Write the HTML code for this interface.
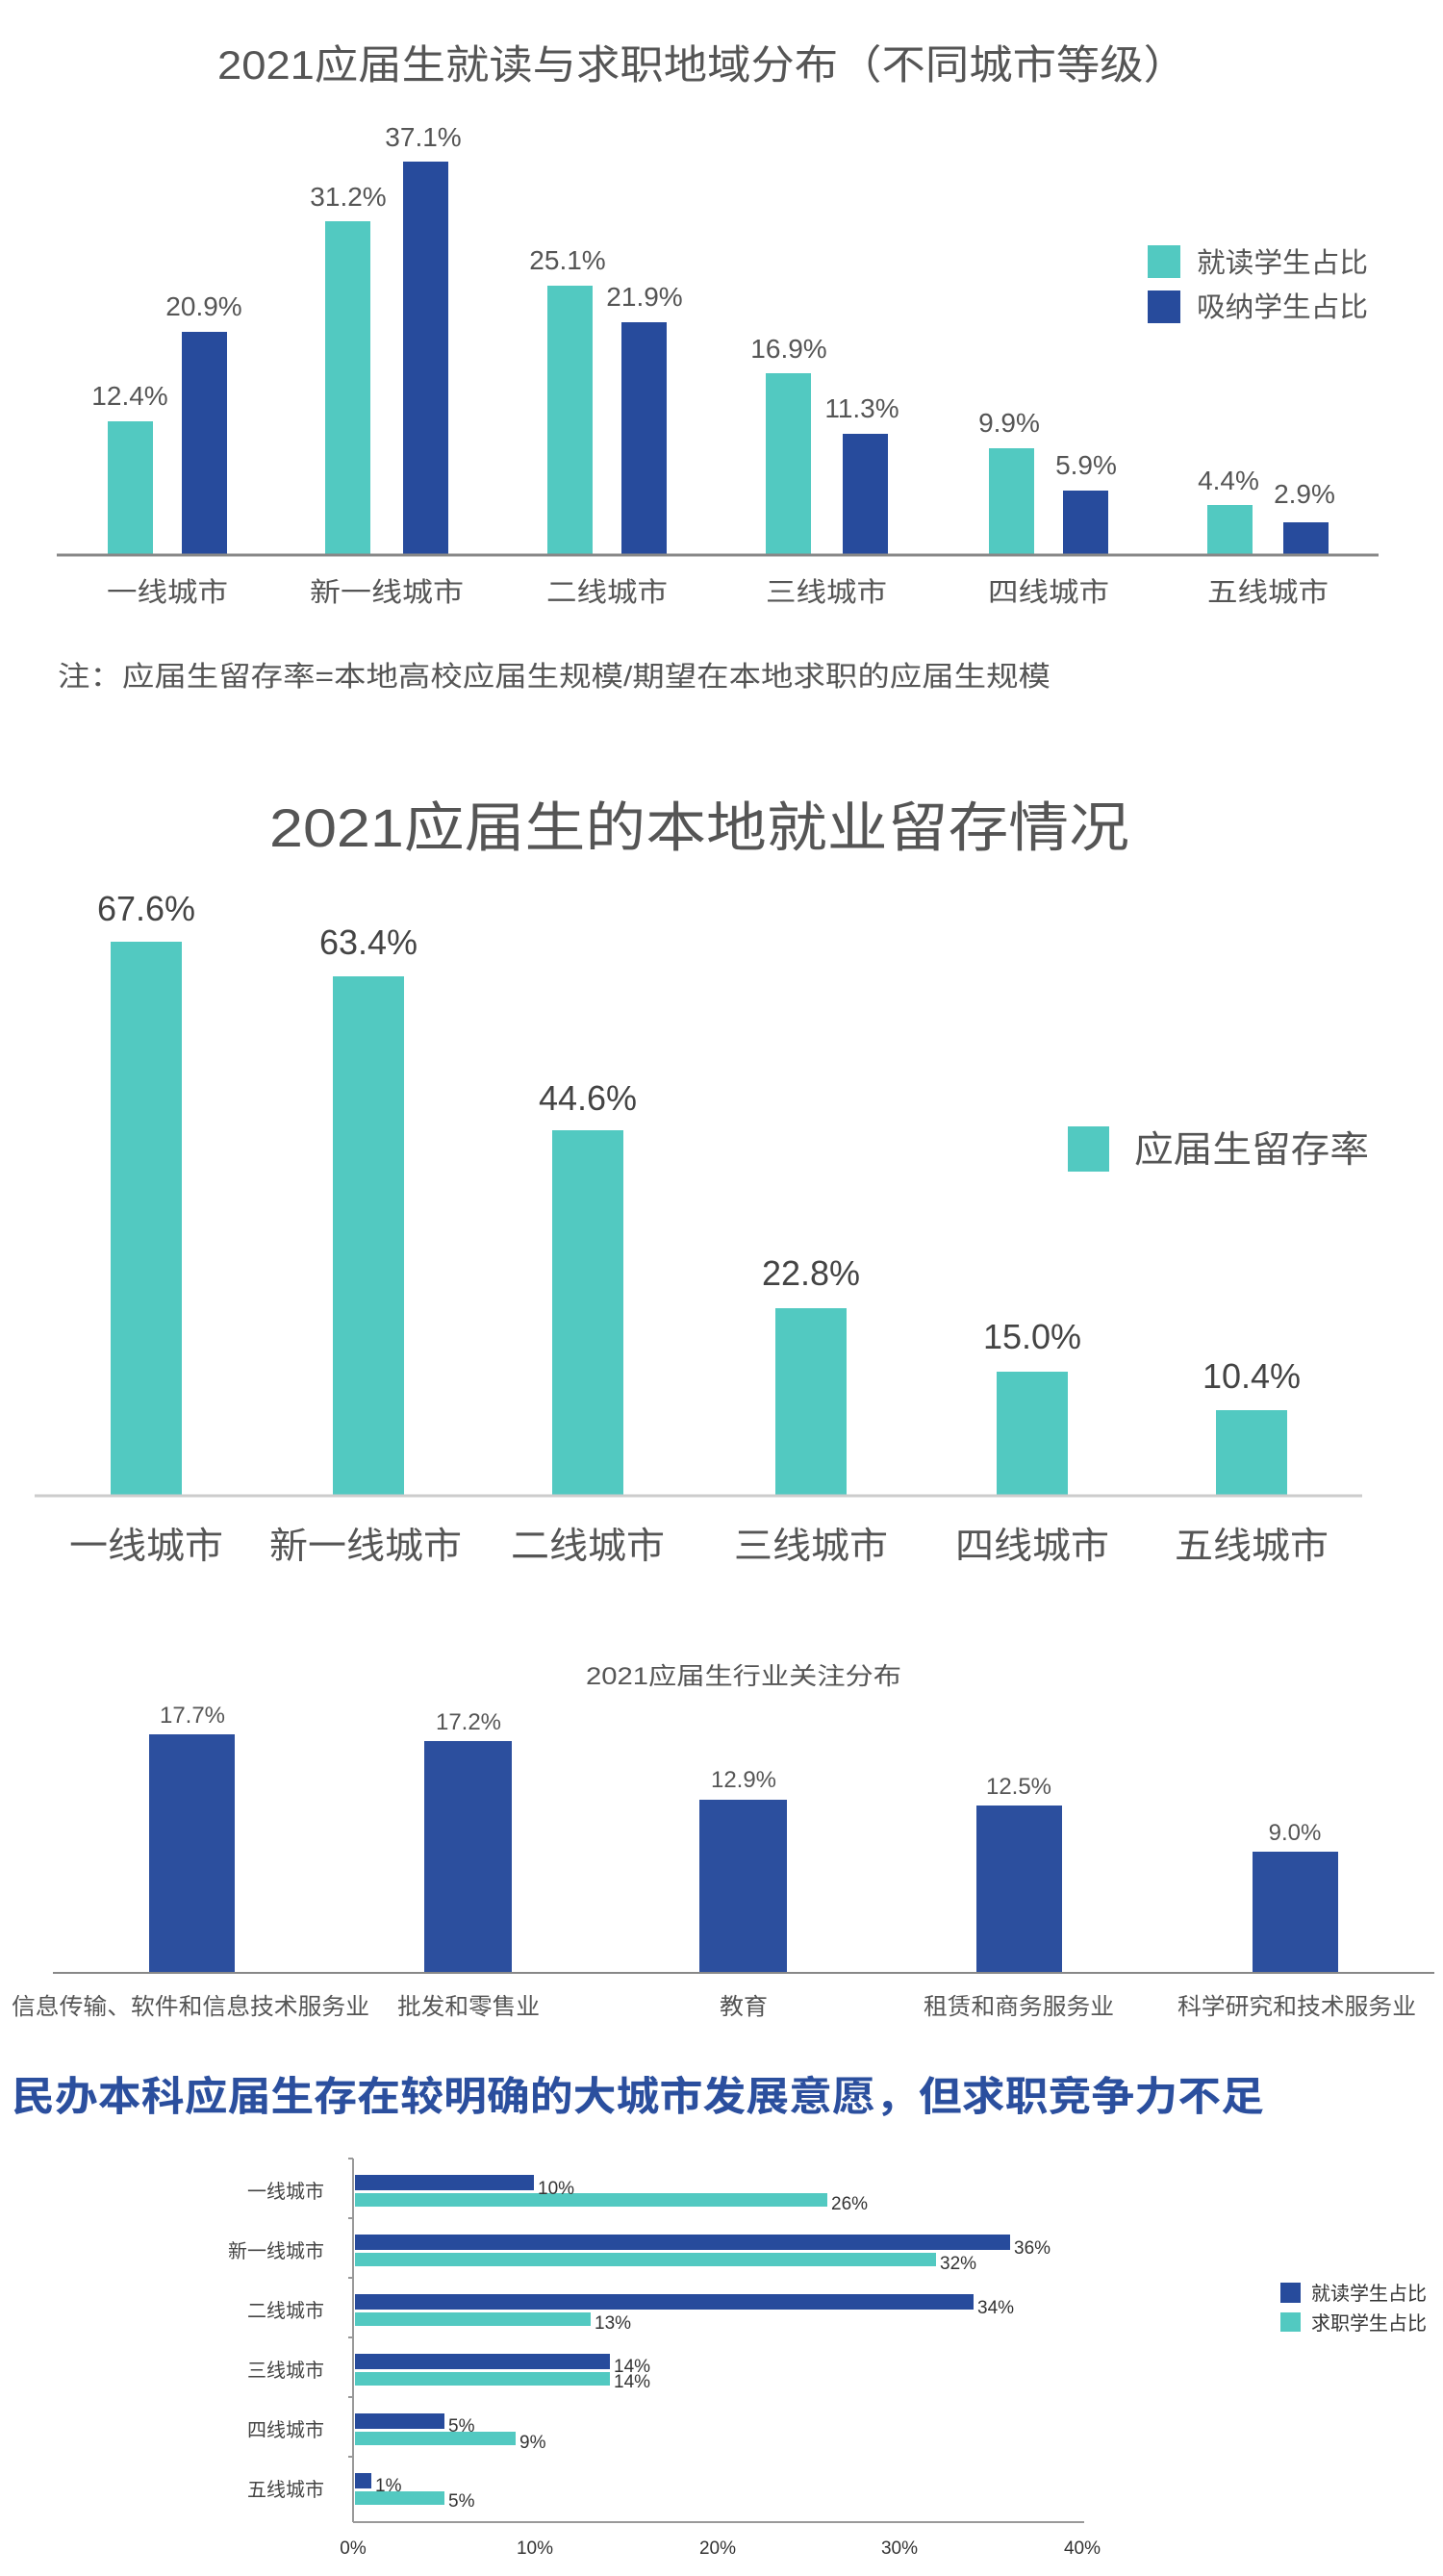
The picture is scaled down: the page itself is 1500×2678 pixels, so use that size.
<!DOCTYPE html>
<html><head><meta charset="utf-8"><style>
html,body{margin:0;padding:0;background:#fff;}
svg{display:block;font-family:"Liberation Sans","Noto Sans CJK SC",sans-serif;}
</style></head><body>
<svg width="1500" height="2678" viewBox="0 0 1500 2678" xmlns="http://www.w3.org/2000/svg">
<!-- Chart 1 -->
<text x="226" y="82" font-size="42" fill="#555" textLength="1008" lengthAdjust="spacingAndGlyphs">2021应届生就读与求职地域分布（不同城市等级）</text>
<g fill="#52c9c1">
<rect x="112" y="438" width="47" height="138"/>
<rect x="338" y="230" width="47" height="346"/>
<rect x="569" y="297" width="47" height="279"/>
<rect x="796" y="388" width="47" height="188"/>
<rect x="1028" y="466" width="47" height="110"/>
<rect x="1255" y="525" width="47" height="51"/>
</g>
<g fill="#274b9c">
<rect x="189" y="345" width="47" height="231"/>
<rect x="419" y="168" width="47" height="408"/>
<rect x="646" y="335" width="47" height="241"/>
<rect x="876" y="451" width="47" height="125"/>
<rect x="1105" y="510" width="47" height="66"/>
<rect x="1334" y="543" width="47" height="33"/>
</g>
<line x1="59" y1="577" x2="1433" y2="577" stroke="#888" stroke-width="3"/>
<g font-size="28" fill="#555" text-anchor="middle">
<text x="135" y="421">12.4%</text><text x="212" y="328">20.9%</text>
<text x="362" y="214">31.2%</text><text x="440" y="152">37.1%</text>
<text x="590" y="280">25.1%</text><text x="670" y="318">21.9%</text>
<text x="820" y="372">16.9%</text><text x="896" y="434">11.3%</text>
<text x="1049" y="449">9.9%</text><text x="1129" y="493">5.9%</text>
<text x="1277" y="509">4.4%</text><text x="1356" y="523">2.9%</text>
</g>
<g font-size="28" fill="#555" text-anchor="middle">
<text x="174" y="625" textLength="126" lengthAdjust="spacingAndGlyphs">一线城市</text><text x="402" y="625" textLength="160" lengthAdjust="spacingAndGlyphs">新一线城市</text>
<text x="631" y="625" textLength="126" lengthAdjust="spacingAndGlyphs">二线城市</text><text x="859" y="625" textLength="126" lengthAdjust="spacingAndGlyphs">三线城市</text>
<text x="1090" y="625" textLength="126" lengthAdjust="spacingAndGlyphs">四线城市</text><text x="1318" y="625" textLength="126" lengthAdjust="spacingAndGlyphs">五线城市</text>
</g>
<rect x="1193" y="255" width="34" height="34" fill="#52c9c1"/>
<rect x="1193" y="302" width="34" height="34" fill="#274b9c"/>
<text x="1244" y="283" font-size="29" fill="#555" textLength="178" lengthAdjust="spacingAndGlyphs">就读学生占比</text>
<text x="1244" y="329" font-size="29" fill="#555" textLength="178" lengthAdjust="spacingAndGlyphs">吸纳学生占比</text>
<text x="60" y="713" font-size="29" fill="#555" textLength="1032" lengthAdjust="spacingAndGlyphs">注：应届生留存率=本地高校应届生规模/期望在本地求职的应届生规模</text>

<!-- Chart 2 -->
<text x="280" y="880" font-size="56" fill="#555" textLength="894" lengthAdjust="spacingAndGlyphs">2021应届生的本地就业留存情况</text>
<g fill="#52c9c1">
<rect x="115" y="979" width="74" height="575"/>
<rect x="346" y="1015" width="74" height="539"/>
<rect x="574" y="1175" width="74" height="379"/>
<rect x="806" y="1360" width="74" height="194"/>
<rect x="1036" y="1426" width="74" height="128"/>
<rect x="1264" y="1466" width="74" height="88"/>
</g>
<line x1="36" y1="1555" x2="1416" y2="1555" stroke="#ccc" stroke-width="3"/>
<g font-size="36" fill="#444" text-anchor="middle">
<text x="152" y="957">67.6%</text><text x="383" y="992">63.4%</text>
<text x="611" y="1154">44.6%</text><text x="843" y="1336">22.8%</text>
<text x="1073" y="1402">15.0%</text><text x="1301" y="1443">10.4%</text>
</g>
<g font-size="38" fill="#555" text-anchor="middle">
<text x="152" y="1620" textLength="160" lengthAdjust="spacingAndGlyphs">一线城市</text><text x="380" y="1620" textLength="200" lengthAdjust="spacingAndGlyphs">新一线城市</text>
<text x="611" y="1620" textLength="160" lengthAdjust="spacingAndGlyphs">二线城市</text><text x="843" y="1620" textLength="160" lengthAdjust="spacingAndGlyphs">三线城市</text>
<text x="1073" y="1620" textLength="160" lengthAdjust="spacingAndGlyphs">四线城市</text><text x="1301" y="1620" textLength="160" lengthAdjust="spacingAndGlyphs">五线城市</text>
</g>
<rect x="1110" y="1171" width="43" height="47" fill="#52c9c1"/>
<text x="1179" y="1208" font-size="38" fill="#555" textLength="244" lengthAdjust="spacingAndGlyphs">应届生留存率</text>

<!-- Chart 3 -->
<text x="773" y="1751" font-size="25" fill="#555" text-anchor="middle" textLength="328" lengthAdjust="spacingAndGlyphs">2021应届生行业关注分布</text>
<g fill="#2c4f9e">
<rect x="155" y="1803" width="89" height="248"/>
<rect x="441" y="1810" width="91" height="241"/>
<rect x="727" y="1871" width="91" height="180"/>
<rect x="1015" y="1877" width="89" height="174"/>
<rect x="1302" y="1925" width="89" height="126"/>
</g>
<line x1="55" y1="2051" x2="1491" y2="2051" stroke="#888" stroke-width="2"/>
<g font-size="24" fill="#555" text-anchor="middle">
<text x="200" y="1791">17.7%</text><text x="487" y="1798">17.2%</text>
<text x="773" y="1858">12.9%</text><text x="1059" y="1865">12.5%</text>
<text x="1346" y="1913">9.0%</text>
</g>
<g font-size="24" fill="#555" text-anchor="middle">
<text x="198" y="2094" textLength="372" lengthAdjust="spacingAndGlyphs">信息传输、软件和信息技术服务业</text>
<text x="487" y="2094" textLength="148" lengthAdjust="spacingAndGlyphs">批发和零售业</text>
<text x="773" y="2094" textLength="50" lengthAdjust="spacingAndGlyphs">教育</text>
<text x="1059" y="2094" textLength="198" lengthAdjust="spacingAndGlyphs">租赁和商务服务业</text>
<text x="1348" y="2094" textLength="248" lengthAdjust="spacingAndGlyphs">科学研究和技术服务业</text>
</g>

<!-- Heading -->
<text x="12" y="2194" font-size="42" font-weight="bold" fill="#2b4f9e" textLength="1302" lengthAdjust="spacingAndGlyphs">民办本科应届生存在较明确的大城市发展意愿，但求职竞争力不足</text>

<!-- Chart 4 -->
<line x1="367" y1="2244" x2="367" y2="2622" stroke="#999" stroke-width="2"/>
<line x1="367" y1="2622" x2="1127" y2="2622" stroke="#999" stroke-width="2"/>
<g stroke="#999" stroke-width="2">
<line x1="362" y1="2244" x2="367" y2="2244"/><line x1="362" y1="2306" x2="367" y2="2306"/>
<line x1="362" y1="2368" x2="367" y2="2368"/><line x1="362" y1="2430" x2="367" y2="2430"/>
<line x1="362" y1="2492" x2="367" y2="2492"/><line x1="362" y1="2554" x2="367" y2="2554"/>
</g>
<g fill="#274b9c">
<rect x="369" y="2261" width="186" height="16"/>
<rect x="369" y="2323" width="681" height="16"/>
<rect x="369" y="2385" width="643" height="16"/>
<rect x="369" y="2447" width="265" height="16"/>
<rect x="369" y="2509" width="93" height="16"/>
<rect x="369" y="2571" width="17" height="16"/>
</g>
<g fill="#52c9c1">
<rect x="369" y="2280" width="491" height="14"/>
<rect x="369" y="2342" width="604" height="14"/>
<rect x="369" y="2404" width="245" height="14"/>
<rect x="369" y="2466" width="265" height="14"/>
<rect x="369" y="2528" width="167" height="14"/>
<rect x="369" y="2590" width="93" height="14"/>
</g>
<g font-size="19" fill="#333">
<text x="559" y="2281">10%</text><text x="864" y="2297">26%</text>
<text x="1054" y="2343">36%</text><text x="977" y="2359">32%</text>
<text x="1016" y="2405">34%</text><text x="618" y="2421">13%</text>
<text x="638" y="2466">14%</text><text x="638" y="2482">14%</text>
<text x="466" y="2528">5%</text><text x="540" y="2545">9%</text>
<text x="390" y="2590">1%</text><text x="466" y="2606">5%</text>
</g>
<g font-size="20" fill="#444" text-anchor="end">
<text x="337" y="2285">一线城市</text><text x="337" y="2347">新一线城市</text>
<text x="337" y="2409">二线城市</text><text x="337" y="2471">三线城市</text>
<text x="337" y="2533">四线城市</text><text x="337" y="2595">五线城市</text>
</g>
<g font-size="19" fill="#333" text-anchor="middle">
<text x="367" y="2655">0%</text><text x="556" y="2655">10%</text>
<text x="746" y="2655">20%</text><text x="935" y="2655">30%</text>
<text x="1125" y="2655">40%</text>
</g>
<rect x="1331" y="2373" width="21" height="21" fill="#274b9c"/>
<rect x="1331" y="2404" width="21" height="20" fill="#52c9c1"/>
<text x="1363" y="2391" font-size="20" fill="#333">就读学生占比</text>
<text x="1363" y="2422" font-size="20" fill="#333">求职学生占比</text>
</svg>
</body></html>
